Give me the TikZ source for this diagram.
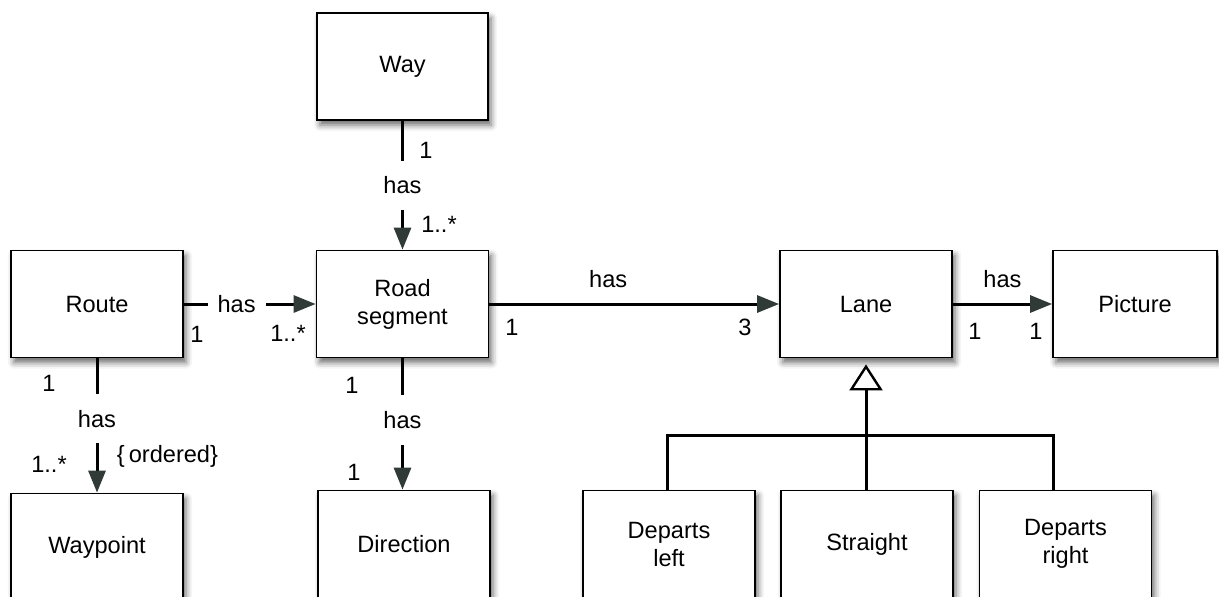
\documentclass[tikz,border=0pt]{standalone}
\usepackage{fontspec}
\setmainfont{Liberation Sans}
\usetikzlibrary{arrows.meta,shadows.blur}
\definecolor{arrowgray}{RGB}{48,58,54}
\begin{document}
\begin{tikzpicture}[x=0.5pt,y=-0.5pt,
  font=\fontsize{11.8}{14}\selectfont,
  box/.style={draw=black, line width=0.9pt, fill=white, minimum width=86pt, minimum height=53.5pt,
    align=center, inner sep=0pt,
    blur shadow={shadow xshift=1.5pt, shadow yshift=-2.5pt, shadow blur radius=3pt, shadow opacity=60}},
  assoc/.style={line width=1.5pt, -{Triangle[length=11pt,width=8.5pt,color=arrowgray]}},
  plain/.style={line width=1.5pt, line join=miter},
  gen/.style={line width=1.5pt, -{Triangle[open,fill=white,length=13pt,width=16.5pt,line width=1.2pt]}, shorten >=3pt},
  haslbl/.style={fill=white, inner xsep=5pt, inner ysep=8pt},
  mult/.style={inner sep=0pt},
]
\useasboundingbox (0,0) rectangle (1219,596);
\clip (0,0) rectangle (1219,596);

% classes
\node[box, minimum width=85.5pt] (way) at (402.5,66.5) {Way};
\node[box] (road) at (402.5,304) {Road\\segment};
\node[box] (route) at (97,304) {Route};
\node[box] (lane) at (866,304) {Lane};
\node[box, minimum width=82pt] (picture) at (1135,304) {Picture};
\node[box] (waypoint) at (97,547) {Waypoint};
\node[box] (direction) at (404,544) {Direction};
\node[box] (dleft) at (669,544) {Departs\\left};
\node[box] (straight) at (867,544) {Straight};
\node[box] (dright) at (1065.5,544) {Departs\\right};

% associations
\draw[assoc] (way) -- node[haslbl]{has} (road);
\draw[assoc] (route) -- node[haslbl, pos=0.4]{has} (road);
\draw[assoc] (road) -- node[above=4pt, pos=0.41]{has} (lane);
\draw[assoc] (lane) -- node[above=4pt]{has} (picture);
\draw[assoc] (route) -- node[haslbl, pos=0.45]{has} (waypoint);
\draw[assoc] (road) -- node[haslbl, pos=0.47]{has} (road |- direction.north);

% generalization
\draw[gen] (straight.north -| lane.south) -- (lane.south);
\coordinate (jl) at (667,435);
\coordinate (jr) at (1053,435);
\draw[plain] (jl |- dleft.north) -- (jl) -- (jr) -- (jr |- dright.north);

% multiplicities
\node[mult] (m1) at (426,150.5) {1};
\node[mult] (m2) at (439,224) {1..*};
\node[mult] (m3) at (197,334) {1};
\node[mult] (m4) at (288,333) {1..*};
\node[mult] (m5) at (512,327) {1};
\node[mult] (m6) at (745,327) {3};
\node[mult] (m7) at (975,331) {1};
\node[mult] (m8) at (1036,331) {1};
\node[mult] (m9) at (49,383) {1};
\node[mult] (m10) at (49,464) {1..*};
\node[mult] (m11) at (167.5,456) {\{\,ordered\}};
\node[mult] (m12) at (352,385) {1};
\node[mult] (m13) at (354,472) {1};
\end{tikzpicture}
\end{document}
